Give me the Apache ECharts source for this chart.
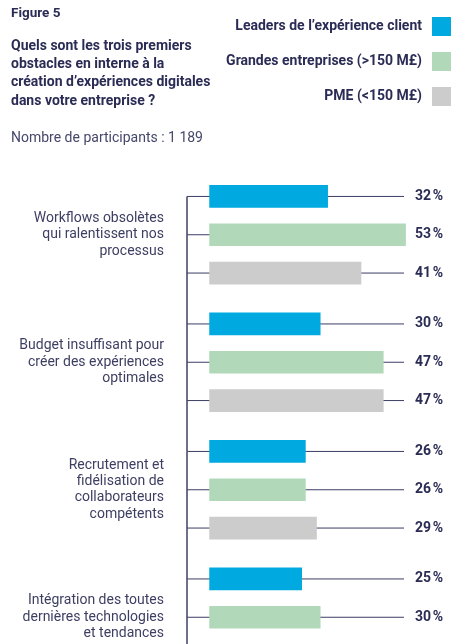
<!DOCTYPE html>
<html>
<head>
<meta charset="utf-8">
<script src="https://cdn.jsdelivr.net/npm/echarts@6/dist/echarts.min.js"></script>
<style>
html,body{margin:0;padding:0;background:#fff;overflow:hidden;}
#chart{width:470px;height:700px;}
</style>
</head>
<body>
<div id="chart"></div>
<script>
var categories = [
  "Workflows obsolètes\nqui ralentissent nos\nprocessus",
  "Budget insuffisant pour\ncréer des expériences\noptimales",
  "Recrutement et\nfidélisation de\ncollaborateurs\ncompétents",
  "Intégration des toutes\ndernières technologies\net tendances"
];
var seriesNames = ["Leaders de l\u2019expérience client", "Grandes entreprises (>150 M£)", "PME (<150 M£)"];
var leaders = [32, 30, 26, 25];
var grandes = [53, 47, 26, 30];
var pme = [41, 47, 29, 36];
var colors = ["#00a9df", "#b1d8b9", "#cccccc"];

var NAVY = "#2a2c55";
var FONT = "Roboto";

function makeRender(s) {
  return function (params, api) {
    var cat = api.value(1);
    var val = api.value(0);
    var cs = params.coordSys;
    var c0 = api.coord([0, cat]);
    var c1 = api.coord([val, cat]);
    var band = api.size([0, 1])[1];
    var step = band * 0.3004;
    var barH = band * 0.178;
    var cy = c0[1] + (s - 1) * step;
    var children = [];
    children.push({
      type: 'line',
      shape: { x1: cs.x, y1: cy, x2: cs.x + cs.width, y2: cy },
      style: { stroke: '#3b3d63', lineWidth: 1 }
    });
    if (s === 0) {
      children.push({
        type: 'line',
        shape: { x1: cs.x, y1: cy, x2: cs.x, y2: cy + band },
        style: { stroke: '#4a4b6c', lineWidth: 1.6 }
      });
    }
    children.push({
      type: 'rect',
      shape: { x: c0[0], y: cy - barH / 2, width: c1[0] - c0[0], height: barH },
      style: { fill: colors[s] }
    });
    children.push({
      type: 'text',
      style: {
        text: val + '\u202f%',
        x: cs.x + cs.width + 11,
        y: cy,
        verticalAlign: 'middle',
        align: 'left',
        fontFamily: FONT,
        fontSize: 14,
        fontWeight: 'bold',
        fill: NAVY
      }
    });
    return { type: 'group', children: children };
  };
}

var seriesData = [leaders, grandes, pme];
var series = seriesData.map(function (arr, s) {
  return {
    type: 'custom',
    name: seriesNames[s],
    itemStyle: { color: colors[s] },
    renderItem: makeRender(s),
    clip: false,
    encode: { x: 0, y: 1 },
    data: arr.map(function (v, i) { return [v, i]; })
  };
});

var chart = echarts.init(document.getElementById('chart'), null, { renderer: 'canvas' });
chart.setOption({
  backgroundColor: '#ffffff',
  animation: false,
  textStyle: { fontFamily: FONT },
  title: [
    { text: 'Figure 5', left: 11, top: 7, padding: 0,
      textStyle: { fontFamily: FONT, fontSize: 13.5, fontWeight: 'bold', color: NAVY } },
    { text: "Quels sont les trois premiers\nobstacles en interne à la\ncréation d\u2019expériences digitales\ndans votre entreprise ?", left: 11, top: 37, padding: 0,
      textStyle: { fontFamily: FONT, fontSize: 14, fontWeight: 'bold', color: NAVY, lineHeight: 18.3 } },
    { text: 'Nombre de participants : 1 189', left: 11, top: 131, padding: 0,
      textStyle: { fontFamily: FONT, fontSize: 14, fontWeight: 'normal', color: '#45476a' } }
  ],
  legend: {
    orient: 'vertical',
    right: 19,
    top: 17,
    padding: 0,
    align: 'right',
    itemWidth: 19,
    itemHeight: 19,
    itemGap: 16,
    icon: 'rect',
    data: seriesNames,
    textStyle: { fontFamily: FONT, fontSize: 14, fontWeight: 'bold', color: NAVY, padding: [0, 5, 0, 0] }
  },
  grid: { left: 187, top: 171, width: 217, height: 510, containLabel: false },
  xAxis: { type: 'value', min: -6, max: 52.5, show: false },
  yAxis: {
    type: 'category',
    inverse: true,
    data: categories,
    axisLine: { show: false },
    axisTick: { show: false },
    splitLine: { show: false },
    axisLabel: {
      margin: 23,
      align: 'right',
      fontFamily: FONT,
      fontSize: 14,
      lineHeight: 16.3,
      color: '#3d3f62'
    }
  },
  series: series
});
</script>
</body>
</html>
